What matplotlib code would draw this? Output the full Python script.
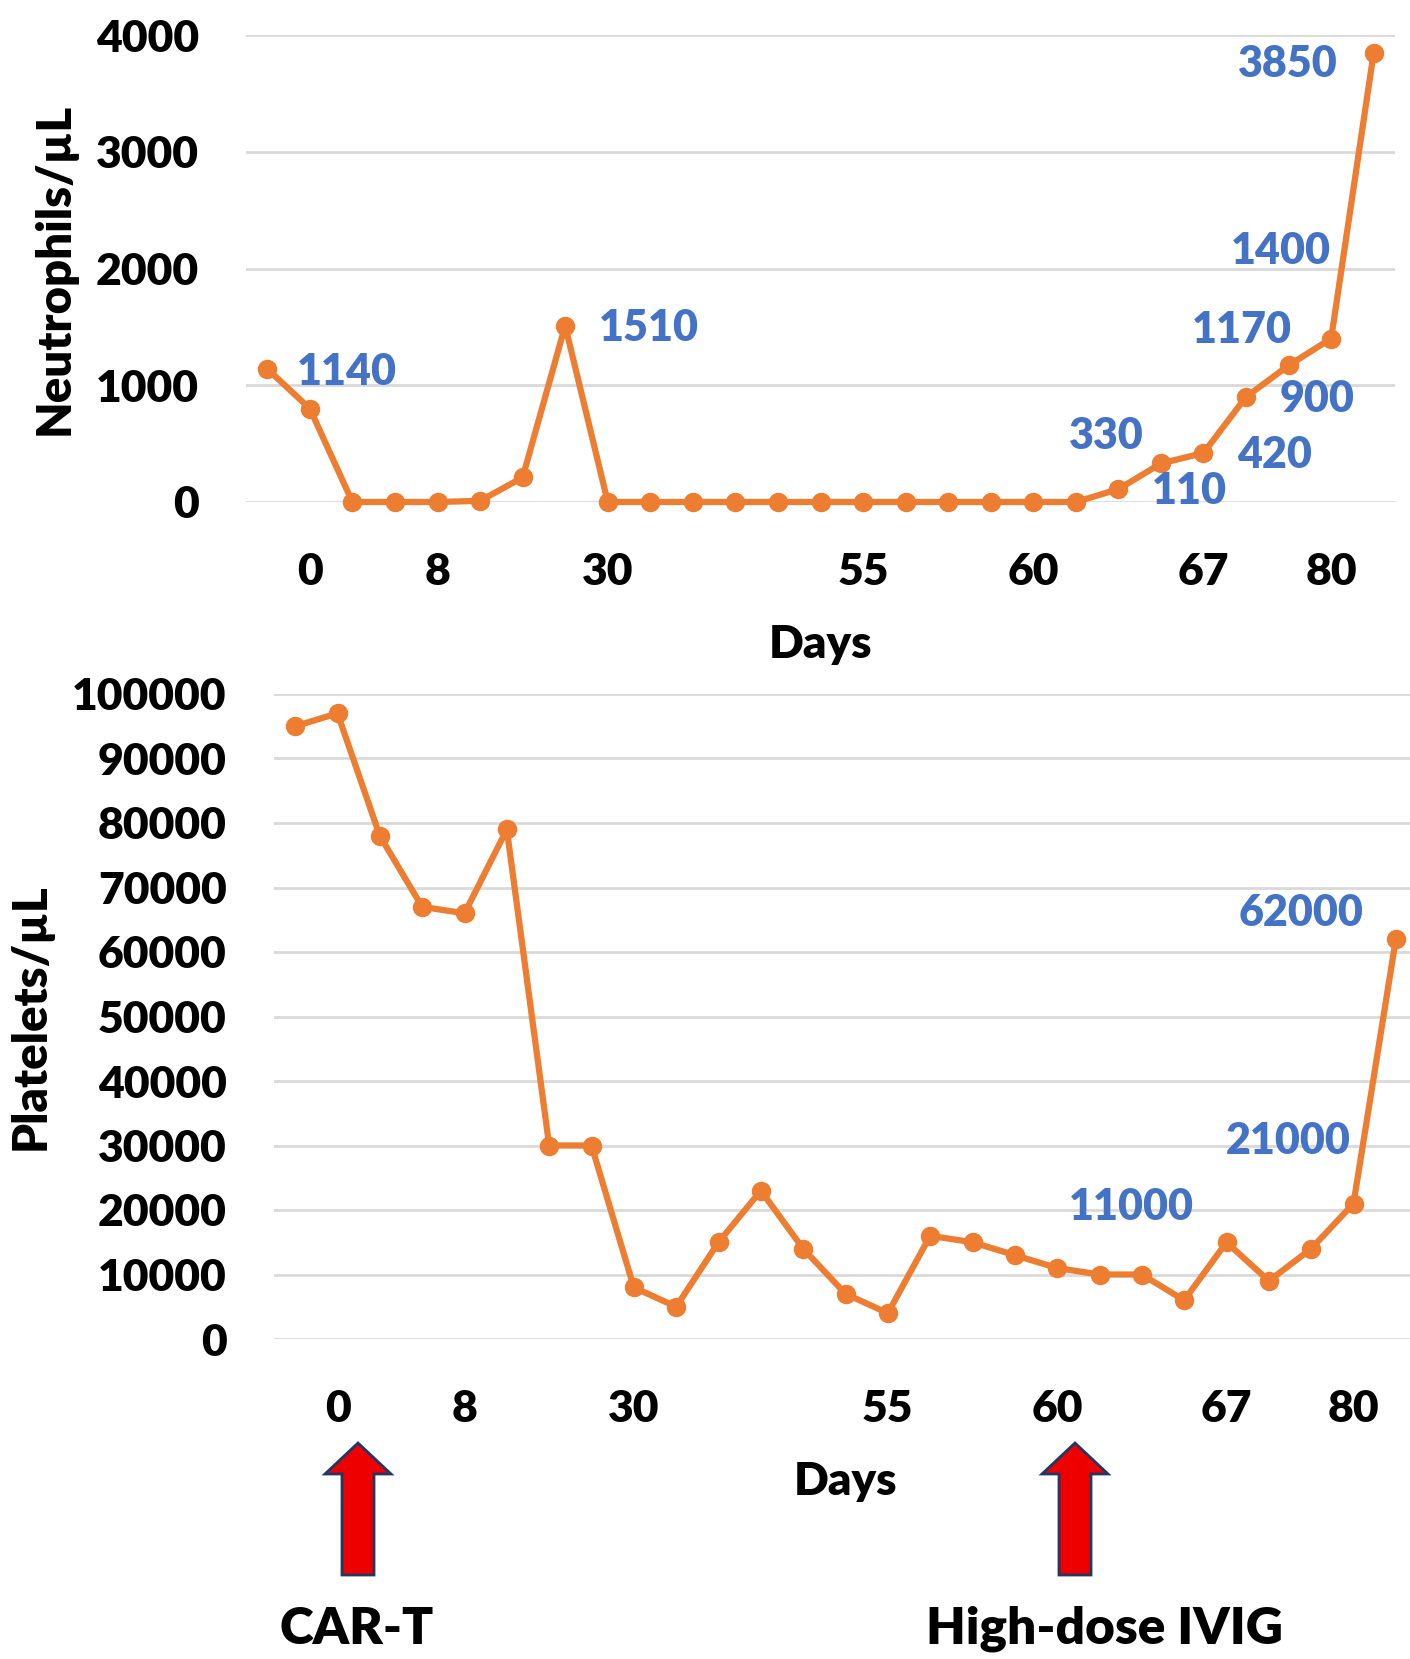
import matplotlib
matplotlib.use("Agg")
from matplotlib import pyplot as plt
from matplotlib.patches import Polygon

neutrophils = [1140, 800, 0, 0, 0, 10, 210, 1510, 0, 0, 0, 0, 0, 0, 0, 0, 0, 0, 0, 0,
               110, 330, 420, 900, 1170, 1400, 3850]
platelets = [95000, 97000, 78000, 67000, 66000, 79000, 30000, 30000, 8000, 5000,
             15000, 23000, 14000, 7000, 4000, 16000, 15000, 13000, 11000, 10000,
             10000, 6000, 15000, 9000, 14000, 21000, 62000]
tick_pos = [1, 4, 8, 14, 18, 22, 25]
tick_labels = ["0", "8", "30", "55", "60", "67", "80"]

# which points get a value label, and where (pixel offsets from the point)
neu_label_idx = [0, 7, 20, 21, 22, 23, 24, 25, 26]
neu_label_off = [(80, -3), (84, -2), (71, -2), (-55, 27), (71, -2), (71, -2), (-47, 35), (-50, 88), (-86, -11)]
plt_label_idx = [18, 25, 26]
plt_label_off = [(74, 61), (-65, 63), (-95, 26)]

orange = "#ED7D31"
blue = "#4472C4"
grid = "#D9D9D9"
wt = 'heavy'
plt.rcParams['font.family'] = ["Lato", "DejaVu Sans"]

W, H = 1410, 1659
fig = plt.figure(figsize=(W / 100, H / 100), dpi=100)


def setup(ax, vals, ymax, ystep):
    x = list(range(len(vals)))
    ax.plot(x, vals, color=orange, lw=4.5, marker='o', ms=13, zorder=3, clip_on=False)
    ax.set_xlim(-0.5, len(vals) - 0.5)
    ax.set_ylim(0, ymax)
    ax.set_yticks(range(0, ymax + 1, ystep))
    ax.set_xticks(tick_pos)
    ax.set_xticklabels(tick_labels)
    ax.yaxis.grid(True, color=grid, lw=2)
    ax.set_axisbelow(True)
    for s in ax.spines.values():
        s.set_visible(False)
    ax.tick_params(length=0, labelsize=32)
    ax.tick_params(axis='x', pad=36)
    ax.tick_params(axis='y', pad=34)
    for t in ax.get_xticklabels() + ax.get_yticklabels():
        t.set_fontweight(wt)


ax1 = fig.add_axes([246 / W, 1 - 502 / H, (1395 - 246) / W, (502 - 35) / H])
setup(ax1, neutrophils, 4000, 1000)
ax1.set_ylabel("Neutrophils/µL", fontsize=34, fontweight=wt, labelpad=14)
ax1.set_xlabel("Days", fontsize=33, fontweight=wt, labelpad=23)
for i, (dx, dy) in zip(neu_label_idx, neu_label_off):
    ax1.annotate(str(neutrophils[i]), (i, neutrophils[i]), xytext=(dx, dy),
                 textcoords='offset pixels', ha='center', va='center',
                 color=blue, fontsize=31, fontweight=wt)

ax2 = fig.add_axes([274 / W, 1 - 1339 / H, (1417 - 274) / W, (1339 - 694) / H])
setup(ax2, platelets, 100000, 10000)
ax2.set_ylabel("Platelets/µL", fontsize=34, fontweight=wt, labelpad=14)
ax2.set_xlabel("Days", fontsize=33, fontweight=wt, labelpad=23)
for i, (dx, dy) in zip(plt_label_idx, plt_label_off):
    ax2.annotate(str(platelets[i]), (i, platelets[i]), xytext=(dx, dy),
                 textcoords='offset pixels', ha='center', va='center',
                 color=blue, fontsize=31, fontweight=wt)


def arrow(cx):
    tip, base, bottom = 1443, 1474, 1575
    hw, sw = 33, 16
    pts = [(cx, tip), (cx + hw, base), (cx + sw, base), (cx + sw, bottom),
           (cx - sw, bottom), (cx - sw, base), (cx - hw, base)]
    pts = [(px / W, 1 - py / H) for px, py in pts]
    fig.add_artist(Polygon(pts, closed=True, transform=fig.transFigure,
                           facecolor="#EE0000", edgecolor="#1F3864", lw=2))


arrow(358)
arrow(1075)
fig.text(357 / W, 1 - 1629 / H, "CAR-T", ha='center', va='center', fontsize=37, fontweight=wt)
fig.text(1105 / W, 1 - 1629 / H, "High-dose IVIG", ha='center', va='center', fontsize=37, fontweight=wt)

fig.savefig("out.png", dpi=100)
